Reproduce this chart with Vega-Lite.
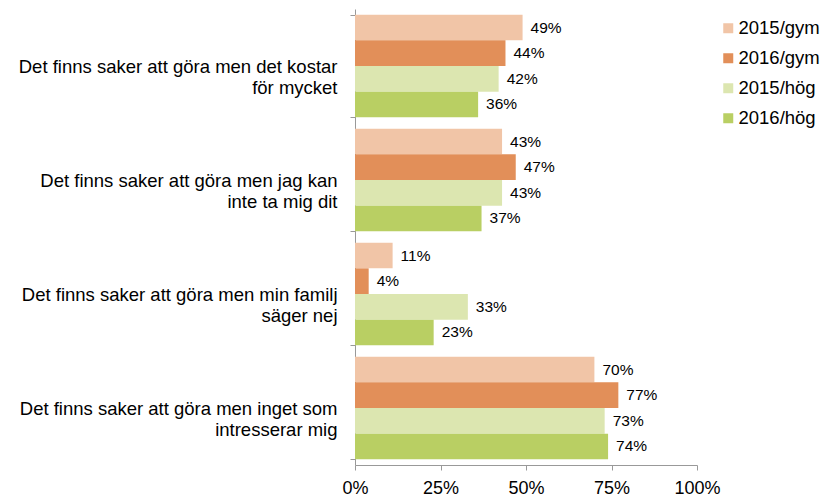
{
  "$schema": "https://vega.github.io/schema/vega-lite/v6.json",
  "autosize": {"type": "none"},
  "width": 342,
  "height": 456,
  "padding": {"left": 355, "top": 9, "right": 126, "bottom": 33},
  "background": "white",
  "config": {"view": {"stroke": null}, "font": "Liberation Sans"},
  "data": {"values": [
    {"cat": "Det finns saker att göra men det kostar|för mycket", "series": "2015/gym", "value": 0.49},
    {"cat": "Det finns saker att göra men det kostar|för mycket", "series": "2016/gym", "value": 0.44},
    {"cat": "Det finns saker att göra men det kostar|för mycket", "series": "2015/hög", "value": 0.42},
    {"cat": "Det finns saker att göra men det kostar|för mycket", "series": "2016/hög", "value": 0.36},
    {"cat": "Det finns saker att göra men jag kan|inte ta mig dit", "series": "2015/gym", "value": 0.43},
    {"cat": "Det finns saker att göra men jag kan|inte ta mig dit", "series": "2016/gym", "value": 0.47},
    {"cat": "Det finns saker att göra men jag kan|inte ta mig dit", "series": "2015/hög", "value": 0.43},
    {"cat": "Det finns saker att göra men jag kan|inte ta mig dit", "series": "2016/hög", "value": 0.37},
    {"cat": "Det finns saker att göra men min familj|säger nej", "series": "2015/gym", "value": 0.11},
    {"cat": "Det finns saker att göra men min familj|säger nej", "series": "2016/gym", "value": 0.04},
    {"cat": "Det finns saker att göra men min familj|säger nej", "series": "2015/hög", "value": 0.33},
    {"cat": "Det finns saker att göra men min familj|säger nej", "series": "2016/hög", "value": 0.23},
    {"cat": "Det finns saker att göra men inget som|intresserar mig", "series": "2015/gym", "value": 0.70},
    {"cat": "Det finns saker att göra men inget som|intresserar mig", "series": "2016/gym", "value": 0.77},
    {"cat": "Det finns saker att göra men inget som|intresserar mig", "series": "2015/hög", "value": 0.73},
    {"cat": "Det finns saker att göra men inget som|intresserar mig", "series": "2016/hög", "value": 0.74}
  ]},
  "encoding": {
    "y": {
      "field": "cat", "type": "nominal", "sort": null,
      "scale": {"paddingInner": 0.1, "paddingOuter": 0.05},
      "axis": {
        "title": null, "domainColor": "#999999", "tickColor": "#999999",
        "tickBand": "extent", "tickSize": 5,
        "labelExpr": "split(datum.label, '|')",
        "labelFontSize": 18.5, "labelColor": "#000000", "labelLineHeight": 21,
        "labelPadding": 13, "labelLimit": 400
      }
    },
    "yOffset": {"field": "series", "type": "nominal", "sort": ["2015/gym", "2016/gym", "2015/hög", "2016/hög"]},
    "x": {
      "field": "value", "type": "quantitative",
      "scale": {"domain": [0, 1]},
      "axis": {
        "title": null, "format": ".0%", "values": [0, 0.25, 0.5, 0.75, 1],
        "grid": false, "domainColor": "#999999", "tickColor": "#999999", "tickSize": 5,
        "labelFlush": false, "labelOverlap": false,
        "labelFontSize": 18, "labelColor": "#000000", "labelPadding": 9
      }
    }
  },
  "layer": [
    {
      "mark": {"type": "bar"},
      "encoding": {
        "color": {
          "field": "series", "type": "nominal",
          "sort": ["2015/gym", "2016/gym", "2015/hög", "2016/hög"],
          "scale": {"domain": ["2015/gym", "2016/gym", "2015/hög", "2016/hög"], "range": ["#F1C5A7", "#E28F59", "#DCE6B0", "#B9CF63"]},
          "legend": {
            "title": null, "orient": "none", "legendX": 364, "legendY": 10, "padding": 0,
            "symbolType": "square", "symbolSize": 100, "symbolStrokeWidth": 0,
            "labelFontSize": 18.5, "labelColor": "#000000", "rowPadding": 11, "labelOffset": 1
          }
        }
      }
    },
    {
      "mark": {"type": "text", "align": "left", "dx": 8, "fontSize": 15.5, "color": "#000000"},
      "encoding": {"text": {"field": "value", "type": "quantitative", "format": ".0%"}}
    }
  ]
}
